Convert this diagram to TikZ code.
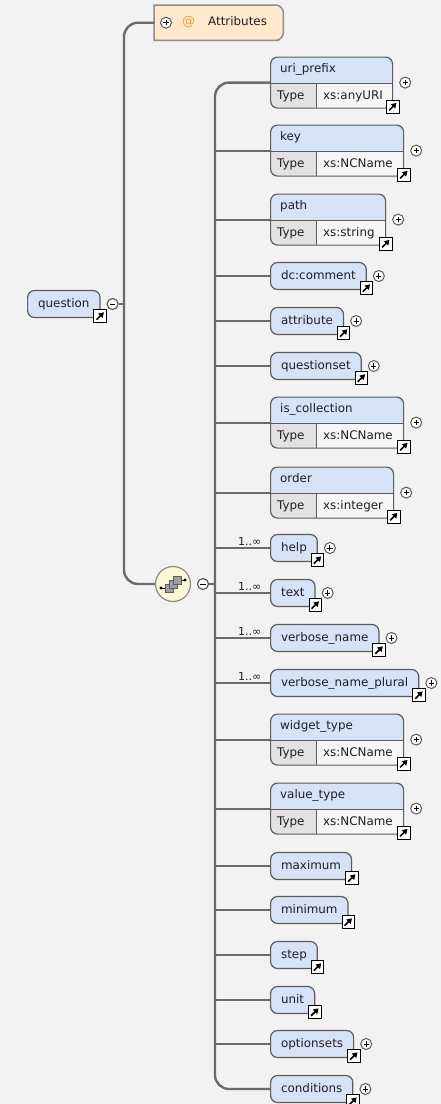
\documentclass[tikz,border=0pt]{standalone}
\usepackage{fontspec}
\setmainfont{DejaVu Sans}
\usetikzlibrary{arrows.meta}

\definecolor{bgGray}{HTML}{F2F2F2}
\definecolor{elemBlue}{HTML}{D6E3F7}
\definecolor{typeGray}{HTML}{E2E2E2}
\definecolor{valWhite}{HTML}{F6F6F6}
\definecolor{boxGray}{HTML}{5C5C5C}
\definecolor{connGray}{HTML}{6A6A6A}
\definecolor{attrPeach}{HTML}{FFE8CC}
\definecolor{attrLine}{HTML}{8C8C8C}
\definecolor{seqYellow}{HTML}{FAF7D4}
\definecolor{atOrange}{HTML}{F0A030}
\definecolor{txtDark}{HTML}{1E1E28}

\tikzset{
	conn/.style={draw=connGray, line width=2pt},
	trunk/.style={draw=connGray, line width=2.4pt},
	lbl/.style={anchor=west, inner sep=0pt, text=txtDark, text height=8.5pt, text depth=2.5pt,
		font={\fontsize{11.9}{14}\selectfont}},
	elem/.style={draw=boxGray, line width=1.2pt, fill=elemBlue, rounded corners=7pt, anchor=west,
		minimum height=27pt, inner xsep=10.5pt, inner ysep=0pt, text=txtDark,
		text height=8.5pt, text depth=2.5pt, font={\fontsize{11.9}{14}\selectfont}},
	typed/.style={draw=boxGray, line width=1.2pt, fill=valWhite, rounded corners=7pt, anchor=north west,
		minimum height=51pt, inner sep=0pt,
		path picture={
			\fill[elemBlue, sharp corners] (path picture bounding box.north west) rectangle ([yshift=-26pt]path picture bounding box.north east);
			\fill[typeGray, sharp corners] ([yshift=-26pt]path picture bounding box.north west) rectangle ([xshift=46pt]path picture bounding box.south west);
			\draw[boxGray, line width=1.2pt, sharp corners] ([yshift=-26pt]path picture bounding box.north west) -- ([yshift=-26pt]path picture bounding box.north east)
				([xshift=46pt,yshift=-26pt]path picture bounding box.north west) -- ([xshift=46pt]path picture bounding box.south west);
		}},
	jump/.style={draw=black, fill=white, line width=0.8pt, minimum size=12.5pt, inner sep=0pt,
		path picture={
			\draw[black, line width=1.6pt, -{Triangle[length=5pt,width=6pt]}] ([shift={(-3.6pt,-3.6pt)}]path picture bounding box.center) -- ([shift={(3.8pt,3.8pt)}]path picture bounding box.center);
		}},
	expand/.style={circle, draw=boxGray, fill=white, line width=1pt, minimum size=11pt, inner sep=0pt,
		path picture={
			\draw[black, line width=0.9pt] ([xshift=-2.6pt]path picture bounding box.center) -- ([xshift=2.6pt]path picture bounding box.center)
				([yshift=-2.6pt]path picture bounding box.center) -- ([yshift=2.6pt]path picture bounding box.center);
		}},
	collapse/.style={circle, draw=boxGray, fill=white, line width=1.2pt, minimum size=11pt, inner sep=0pt,
		path picture={
			\draw[black, line width=1pt] ([xshift=-2.8pt]path picture bounding box.center) -- ([xshift=2.8pt]path picture bounding box.center);
		}},
	mult/.style={anchor=south east, inner sep=0.5pt, text=txtDark, font={\fontsize{11}{13}\selectfont}},
	seqball/.style={circle, draw=attrLine, line width=1.2pt, fill=seqYellow, minimum size=35pt, inner sep=0pt},
}

\begin{document}
\begin{tikzpicture}[x=1pt,y=-1pt]
	\useasboundingbox (0,0) rectangle (441,1104);
	\fill[bgGray] (0,0) rectangle (441,1104);

	% root element
	\node[elem] (question) at (27,304) {question};
	\node[jump] (question-jump) at ([xshift=-0.5pt,yshift=2pt]question.south east) {};
	\node[collapse] (qminus) at ([xshift=12pt]question.east) {};
	\coordinate (qtrunk) at (124,304);

	% attribute group: square left corners, round right ones
	\node[anchor=north west, minimum width=129pt, minimum height=35pt] (attr) at (154,5) {};
	\draw[draw=attrLine, line width=1.5pt, fill=attrPeach] (attr.south west) -- (attr.north west) -- (attr.north)
		[rounded corners=8pt] -- (attr.north east) -- (attr.south east) -- ([xshift=-12pt]attr.south east)
		[sharp corners] -- cycle;
	\node[expand] (attr-plus) at ([xshift=12pt]attr.west) {};
	\node[lbl, text=atOrange, font={\fontsize{13}{15}\selectfont}] (attr-at) at ([xshift=28pt]attr.west) {@};
	\node[lbl] (attr-name) at ([xshift=54pt]attr.west) {Attributes};

	% sequence compositor
	\node[seqball] (seq) at (173,584) {};
	\begin{scope}[shift={(seq.center)}]
		\draw[black, line width=0.9pt] (-12,4) -- (-8,4) (8,-4) -- (12,-4);
		\fill[black] (-12,4) circle[radius=1.6pt] (12,-4) circle[radius=1.6pt];
		\foreach \d in {0,4,8}
			\draw[fill=gray!75, draw=boxGray, line width=0.7pt] (-8+\d,-\d) rectangle ++(8,8);
	\end{scope}
	\node[collapse] (seqminus) at (203,584) {};
	\coordinate (ctrunk) at (215,584);

	% children with a type row
	\foreach \nm/\yy/\ww/\lab/\ty in {uri/56.5/122/uri\_prefix/xs:anyURI, key/124.5/133/key/xs:NCName,
		path/193.5/115/path/xs:string, iscoll/396.5/133/is\_collection/xs:NCName,
		order/466.5/123/order/xs:integer, widget/713.5/133/widget\_type/xs:NCName,
		value/782.5/133/value\_type/xs:NCName}{
		\node[typed, minimum width=\ww] (\nm) at (270,\yy) {};
		\node[lbl] (\nm-name) at ([xshift=10pt,yshift=-13pt]\nm.north west) {\lab};
		\node[lbl] (\nm-type) at ([xshift=7pt,yshift=12.5pt]\nm.south west) {Type};
		\node[lbl] (\nm-val) at ([xshift=53pt,yshift=12.5pt]\nm.south west) {\ty};
		\node[jump] (\nm-jump) at ([xshift=-0.5pt,yshift=2pt]\nm.south east) {};
		\node[expand] (\nm-plus) at ([xshift=12pt]\nm.east) {};
	}

	% plain children
	\foreach \nm/\yy/\lab in {dccomment/276/dc:comment, attribute/321/attribute,
		questionset/366/questionset, help/548/help, txt/593/text, vname/638/verbose\_name,
		vplural/683/verbose\_name\_plural, maximum/866/maximum, minimum/910/minimum,
		stepnode/955/step, unit/1000/unit, optionsets/1044/optionsets, cond/1089/conditions}{
		\node[elem] (\nm) at (270,\yy) {\lab};
		\node[jump] (\nm-jump) at ([xshift=-0.5pt,yshift=2pt]\nm.south east) {};
	}
	\foreach \nm in {dccomment,attribute,questionset,help,txt,vname,vplural,optionsets,cond}
		\node[expand] (\nm-plus) at ([xshift=12pt]\nm.east) {};
	\foreach \nm in {help,txt,vname,vplural}
		\node[mult] (\nm-mult) at ([xshift=-8pt,yshift=2pt]\nm.west) {1..∞};

	% connectors
	\draw[trunk, rounded corners=14pt] (attr.west) -| (qtrunk) |- (seq.west);
	\draw[conn] (qminus.east) -- (qtrunk);
	\draw[trunk, rounded corners=14pt] (uri.west) -| (ctrunk) |- (cond.west);
	\draw[conn] (seqminus.east) -- (ctrunk);
	\foreach \nm in {key,path,dccomment,attribute,questionset,iscoll,order,help,txt,vname,vplural,
		widget,value,maximum,minimum,stepnode,unit,optionsets}
		\draw[conn] (ctrunk |- \nm.west) -- (\nm.west);
\end{tikzpicture}
\end{document}
